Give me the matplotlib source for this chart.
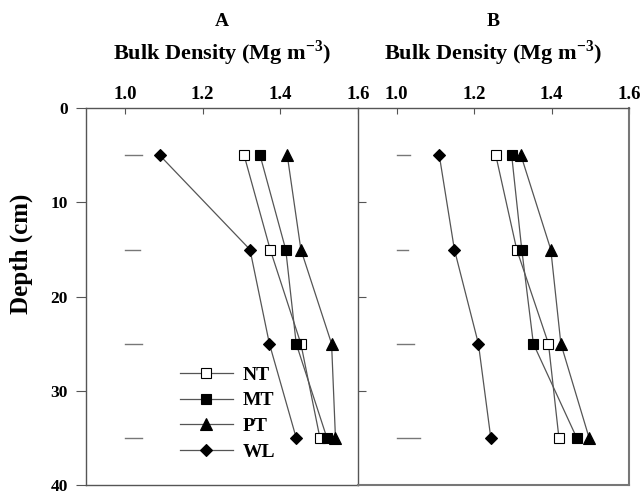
import matplotlib
matplotlib.use('Agg')
import matplotlib.pyplot as plt

plt.rcParams['font.family'] = 'Liberation Serif'
plt.rcParams['font.weight'] = 'bold'
plt.rcParams['axes.titleweight'] = 'bold'
plt.rcParams['axes.labelweight'] = 'bold'
plt.rcParams['mathtext.fontset'] = 'custom'
plt.rcParams['mathtext.rm'] = 'Liberation Serif:bold'
plt.rcParams['mathtext.bf'] = 'Liberation Serif:bold'

# depth of each sampling layer (cm)
depths = [5, 15, 25, 35]

# bulk density (Mg m-3), panel A
a_nt = [1.307, 1.374, 1.453, 1.502]
a_mt = [1.348, 1.414, 1.441, 1.520]
a_pt = [1.418, 1.453, 1.532, 1.542]
a_wl = [1.090, 1.322, 1.372, 1.441]

# bulk density (Mg m-3), panel B
b_nt = [1.256, 1.310, 1.392, 1.419]
b_mt = [1.297, 1.323, 1.353, 1.465]
b_pt = [1.321, 1.398, 1.424, 1.497]
b_wl = [1.110, 1.149, 1.211, 1.243]

# short horizontal bars near the left edge (start, end)
a_dash_end = [1.045, 1.040, 1.045, 1.045]
b_dash_end = [1.034, 1.030, 1.045, 1.060]
dash_start = 1.0

labels = ['NT', 'MT', 'PT', 'WL']
xticks = [1.0, 1.2, 1.4, 1.6]
yticks = [0, 10, 20, 30, 40]

styles = {
    'NT': dict(marker='s', mfc='white', ms=6.5),
    'MT': dict(marker='s', mfc='black', ms=6.5),
    'PT': dict(marker='^', mfc='black', ms=8),
    'WL': dict(marker='D', mfc='black', ms=6),
}

top_px, bot_px = 108.3, 485.0
h_px = bot_px - top_px

fig = plt.figure(figsize=(6.44, 4.95), dpi=100)
ax_a = fig.add_axes([86 / 644, 1 - bot_px / 495, 272 / 644, h_px / 495])
ax_b = fig.add_axes([358 / 644, 1 - bot_px / 495, 271 / 644, h_px / 495])

panels = [
    (ax_a, 'A', [a_nt, a_mt, a_pt, a_wl], a_dash_end),
    (ax_b, 'B', [b_nt, b_mt, b_pt, b_wl], b_dash_end),
]

for ax, title, series, dash_end in panels:
    for d, e in zip(depths, dash_end):
        ax.plot([dash_start, e], [d, d], color='#777777', lw=1)
    for name, vals in zip(labels, series):
        st = styles[name]
        ax.plot(vals, depths, color='#555555', lw=0.9, marker=st['marker'],
                mfc=st['mfc'], mec='black', mew=0.8, ms=st['ms'], label=name)
    ax.set_xlim(0.9, 1.6)
    ax.set_ylim(40, 0)
    ax.xaxis.tick_top()
    ax.xaxis.set_label_position('top')
    ax.set_xticks(xticks)
    ax.set_xticklabels([f'{t:.1f}' for t in xticks])
    ax.tick_params(axis='x', direction='in', length=4, pad=4, labelsize=13.5,
                   color='#555555')
    ax.set_xlabel(r'Bulk Density (Mg m$^{-3}$)', fontsize=16)
    ax.xaxis.set_label_coords(0.5, (bot_px - 53) / h_px)
    ax.xaxis.label.set_va('center')
    ax.set_title(title, fontsize=14, y=(bot_px - 22) / h_px, pad=0, va='center')
    for sp in ax.spines.values():
        sp.set_color('#555555')
        sp.set_linewidth(1)

ax_a.set_yticks(yticks)
ax_a.tick_params(axis='y', direction='out', length=7, pad=6, labelsize=12.5,
                 color='#555555')
ax_a.spines['right'].set_visible(False)
ax_b.set_yticks([10, 20, 30])
ax_b.tick_params(axis='y', direction='in', length=6, labelleft=False,
                 color='#555555')
ax_b.spines['right'].set_linewidth(1.5)
ax_b.spines['right'].set_color('#777777')
ax_b.spines['bottom'].set_linewidth(1.5)
ax_b.spines['bottom'].set_color('#777777')

fig.text(21 / 644, 1 - 254 / 495, 'Depth (cm)', rotation=90, fontsize=18,
         ha='center', va='center')

ax_a.legend(loc='upper left', bbox_to_anchor=((180 - 86) / 272, (bot_px - 366) / h_px),
            frameon=False, fontsize=14, handlelength=2.7, handletextpad=0.5,
            labelspacing=0.42, borderpad=0, borderaxespad=0)

fig.savefig('out.png', dpi=100)
